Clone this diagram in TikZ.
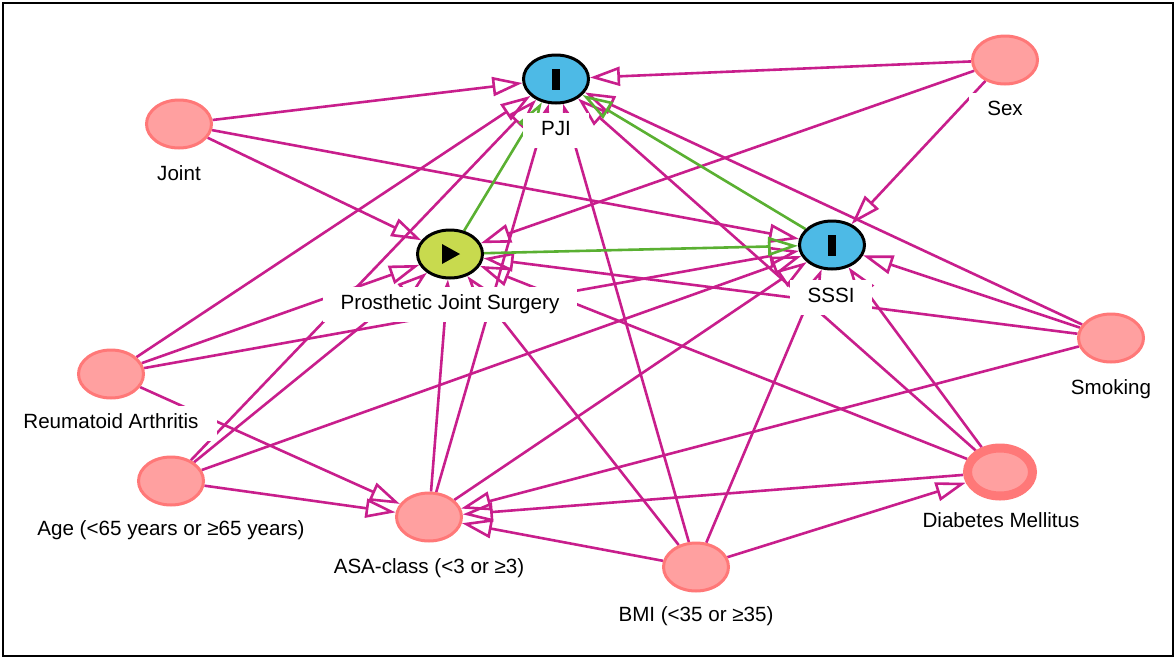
\documentclass[tikz,border=0pt]{standalone}
\usepackage{fontspec}
\setmainfont{Liberation Sans}
\usetikzlibrary{arrows.meta,shapes.geometric,backgrounds}
\definecolor{adjFill}{HTML}{FFA0A0}
\definecolor{adjDraw}{HTML}{FF7878}
\definecolor{outFill}{HTML}{4DBAE6}
\definecolor{expFill}{HTML}{C8DA4E}
\definecolor{biasEdge}{HTML}{C81E8C}
\definecolor{causEdge}{HTML}{5AB032}
\tikzset{
  font=\fontsize{20.6}{24}\selectfont,
  var/.style  ={ellipse, minimum width=65pt, minimum height=48pt, inner sep=0pt},
  adj/.style  ={var, fill=adjFill, draw=adjDraw, line width=3pt},
  adjx/.style ={var, fill=adjFill, draw=adjDraw, line width=9pt},
  outc/.style ={var, fill=outFill, draw=black, line width=3pt,
    path picture={\fill[black] ([xshift=-4pt,yshift=-10.5pt]path picture bounding box.center) rectangle ++(8pt,21pt);}},
  expo/.style ={var, fill=expFill, draw=black, line width=3pt,
    path picture={\fill[black] ([xshift=-8pt,yshift=10pt]path picture bounding box.center) -- ++(18pt,-10pt) -- ++(-18pt,-10pt) -- cycle;}},
  lbl/.style  ={fill=white, inner xsep=18pt, inner ysep=8pt, text height=15pt, text depth=4pt},
  barr/.style ={draw=biasEdge, line width=2.6pt, -{Triangle[open, length=30pt, width=19pt]}},
  carr/.style ={draw=causEdge, line width=2.6pt, -{Triangle[open, length=30pt, width=19pt]}},
}
\begin{document}
\begin{tikzpicture}[x=1pt, y=-1pt]
  \useasboundingbox (0,0) rectangle (1176,659);
  \draw[line width=2pt] (3,3) rectangle (1173,656);

  % exposure and outcomes
  \node[outc] (pji)  at (556,79)  {};
  \node[expo] (pjs)  at (450,254) {};
  \node[outc] (sssi) at (832,245) {};

  % adjusted / other variables
  \node[adj]  (sex)   at (1005,60)  {};
  \node[adj]  (joint) at (179,124)  {};
  \node[adj]  (ra)    at (111,374)  {};
  \node[adj]  (smk)   at (1111,338) {};
  \node[adj]  (age)   at (171,481)  {};
  \node[adj]  (asa)   at (429,517)  {};
  \node[adjx] (dm)    at (1000,472) {};
  \node[adj]  (bmi)   at (696,567)  {};

  % labels (white boxes hide the edges behind them)
  \node[lbl] (pjiL)   at (556,130)  {PJI};
  \node[lbl] (pjsL)   at (450,304)  {Prosthetic Joint Surgery};
  \node[lbl] (sssiL)  at (831,297)  {SSSI};
  \node[lbl] (sexL)   at (1005,110) {Sex};
  \node[lbl] (jointL) at (179,175)  {Joint};
  \node[lbl] (raL)    at (111,423)  {Reumatoid Arthritis};
  \node[lbl] (smkL)   at (1111,389) {Smoking};
  \node[lbl] (ageL)   at (171,530)  {Age (<65 years or ≥65 years)};
  \node[lbl] (asaL)   at (429,568)  {ASA-class (<3 or ≥3)};
  \node[lbl] (dmL)    at (1001,522) {Diabetes Mellitus};
  \node[lbl] (bmiL)   at (696,616)  {BMI (<35 or ≥35)};

  \begin{scope}[on background layer]
    % biasing paths
    \draw[barr] (joint)--(pji); \draw[barr] (joint)--(pjs); \draw[barr] (joint)--(sssi);
    \draw[barr] (sex)--(pji);   \draw[barr] (sex)--(pjs);   \draw[barr] (sex)--(sssi);
    \draw[barr] (ra)--(pji);    \draw[barr] (ra)--(pjs);    \draw[barr] (ra)--(sssi);  \draw[barr] (ra)--(asa);
    \draw[barr] (age)--(pji);   \draw[barr] (age)--(pjs);   \draw[barr] (age)--(sssi); \draw[barr] (age)--(asa);
    \draw[barr] (asa)--(pji);   \draw[barr] (asa)--(pjs);   \draw[barr] (asa)--(sssi);
    \draw[barr] (bmi)--(pji);   \draw[barr] (bmi)--(pjs);   \draw[barr] (bmi)--(sssi); \draw[barr] (bmi)--(asa); \draw[barr] (bmi)--(dm);
    \draw[barr] (dm)--(pji);    \draw[barr] (dm)--(pjs);    \draw[barr] (dm)--(sssi);  \draw[barr] (dm)--(asa);
    \draw[barr] (smk)--(pji);   \draw[barr] (smk)--(pjs);   \draw[barr] (smk)--(sssi); \draw[barr] (smk)--(asa);
    % causal paths
    \draw[carr] (pjs)--(pji); \draw[carr] (pjs)--(sssi); \draw[carr] (sssi)--(pji);
  \end{scope}
\end{tikzpicture}
\end{document}
